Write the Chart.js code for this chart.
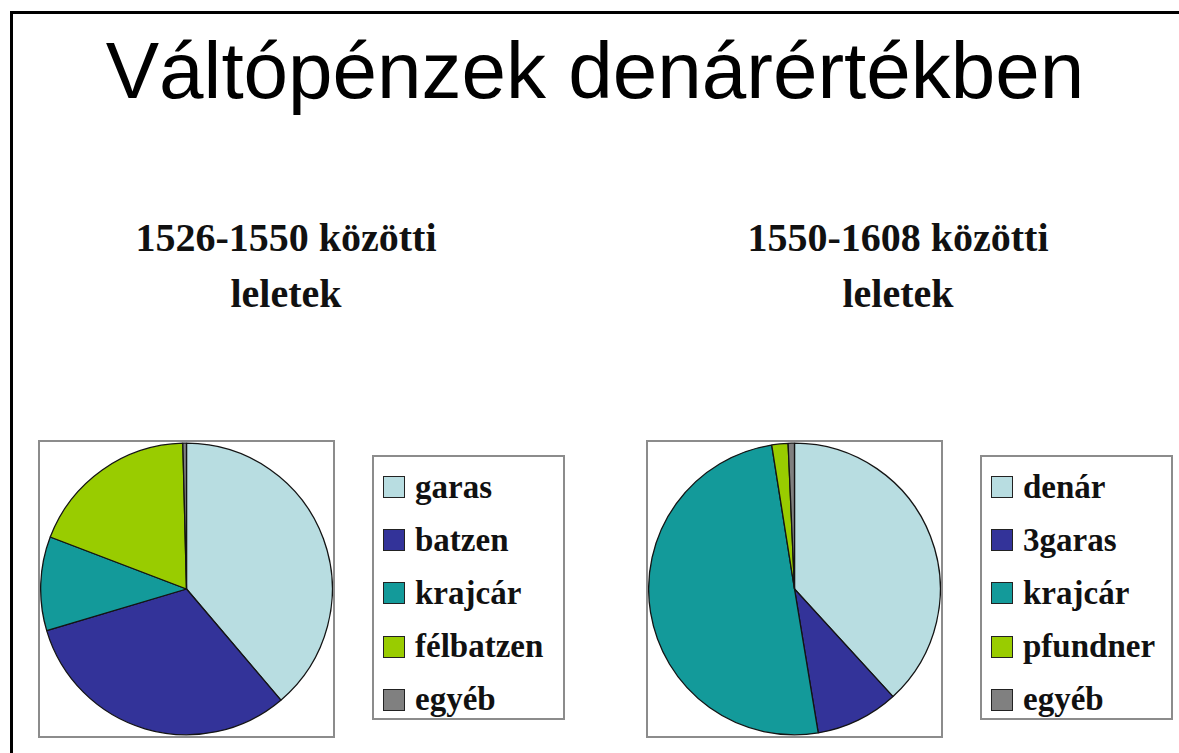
<!DOCTYPE html>
<html>
<head>
  <title>Váltópénzek denárértékben</title>
  <script src="https://cdn.jsdelivr.net/npm/chart.js"></script>
  <style>
    html, body { margin: 0; padding: 0; background: #fff; }
    body { width: 1179px; height: 753px; position: relative; overflow: hidden; }
    .frame { position: absolute; left: 10px; top: 11px; width: 1175px; height: 760px;
             border-left: 3px solid #000; border-top: 3px solid #000; }
    h1 { position: absolute; left: 0; width: 1190px; top: 25px; margin: 0; text-align: center;
         font: 80px "Liberation Sans", Arial, sans-serif; color: #000; }
    .sub { position: absolute; margin: 0; text-align: center; width: 400px;
           font: bold 40px "Liberation Serif", "Times New Roman", serif; line-height: 56px; color: #111; }
    .pieBox { position: absolute; width: 293px; height: 294px; border: 2px solid #8c8c8c; }
    .legBox { position: absolute; width: 189px; height: 261px; border: 2px solid #8c8c8c; }
    .legItem { position: absolute; left: 9px; height: 24px; display: flex; align-items: center;
               font: bold 33px "Liberation Serif", "Times New Roman", serif; color: #111; white-space: nowrap; }
    .legItem span.sw { width: 20px; height: 20px; border: 1.5px solid #222; margin-right: 10px; flex: none; }
  </style>
</head>
<body>
<div class="frame"></div>
<h1>Váltópénzek denárértékben</h1>

<div class="sub" style="left:86px; top:210px;">1526-1550 közötti<br>leletek</div>
<div class="sub" style="left:698px; top:210px;">1550-1608 közötti<br>leletek</div>

<div class="pieBox" style="left:38px; top:440px;"><canvas id="pie1" width="293" height="294"></canvas></div>
<div class="legBox" id="leg1" style="left:372px; top:455px;"></div>

<div class="pieBox" style="left:646px; top:440px;"><canvas id="pie2" width="293" height="294"></canvas></div>
<div class="legBox" id="leg2" style="left:980px; top:455px;"></div>

<script>
  // shares (percent)
  const labels1526 = ['garas', 'batzen', 'krajcár', 'félbatzen', 'egyéb'];
  const values1526 = [38.8, 31.6, 10.4, 18.8, 0.4];

  const labels1550 = ['denár', '3garas', 'krajcár', 'pfundner', 'egyéb'];
  const values1550 = [38.2, 9.2, 50.1, 1.8, 0.7];

  const sliceColors = ['#b8dde1', '#333399', '#139a9a', '#99cc00', '#808080'];

  function makePie(canvasId, legendId, labels, values) {
    const chart = new Chart(document.getElementById(canvasId), {
      type: 'pie',
      data: {
        labels: labels,
        datasets: [{
          data: values,
          backgroundColor: sliceColors,
          borderColor: '#141414',
          borderWidth: 1.3
        }]
      },
      options: {
        responsive: false,
        animation: false,
        layout: { padding: 0 },
        plugins: {
          legend: { display: false },
          tooltip: { enabled: false }
        }
      }
    });

    // legend in a bordered box, built from the chart's own labels
    const box = document.getElementById(legendId);
    const items = Chart.overrides.pie.plugins.legend.labels.generateLabels(chart);
    items.forEach((item, i) => {
      const row = document.createElement('div');
      row.className = 'legItem';
      row.style.top = (18 + i * 53.2) + 'px';
      row.innerHTML = '<span class="sw" style="background:' + item.fillStyle + '"></span>' + item.text;
      box.appendChild(row);
    });
    return chart;
  }

  makePie('pie1', 'leg1', labels1526, values1526);
  makePie('pie2', 'leg2', labels1550, values1550);
</script>
</body>
</html>
